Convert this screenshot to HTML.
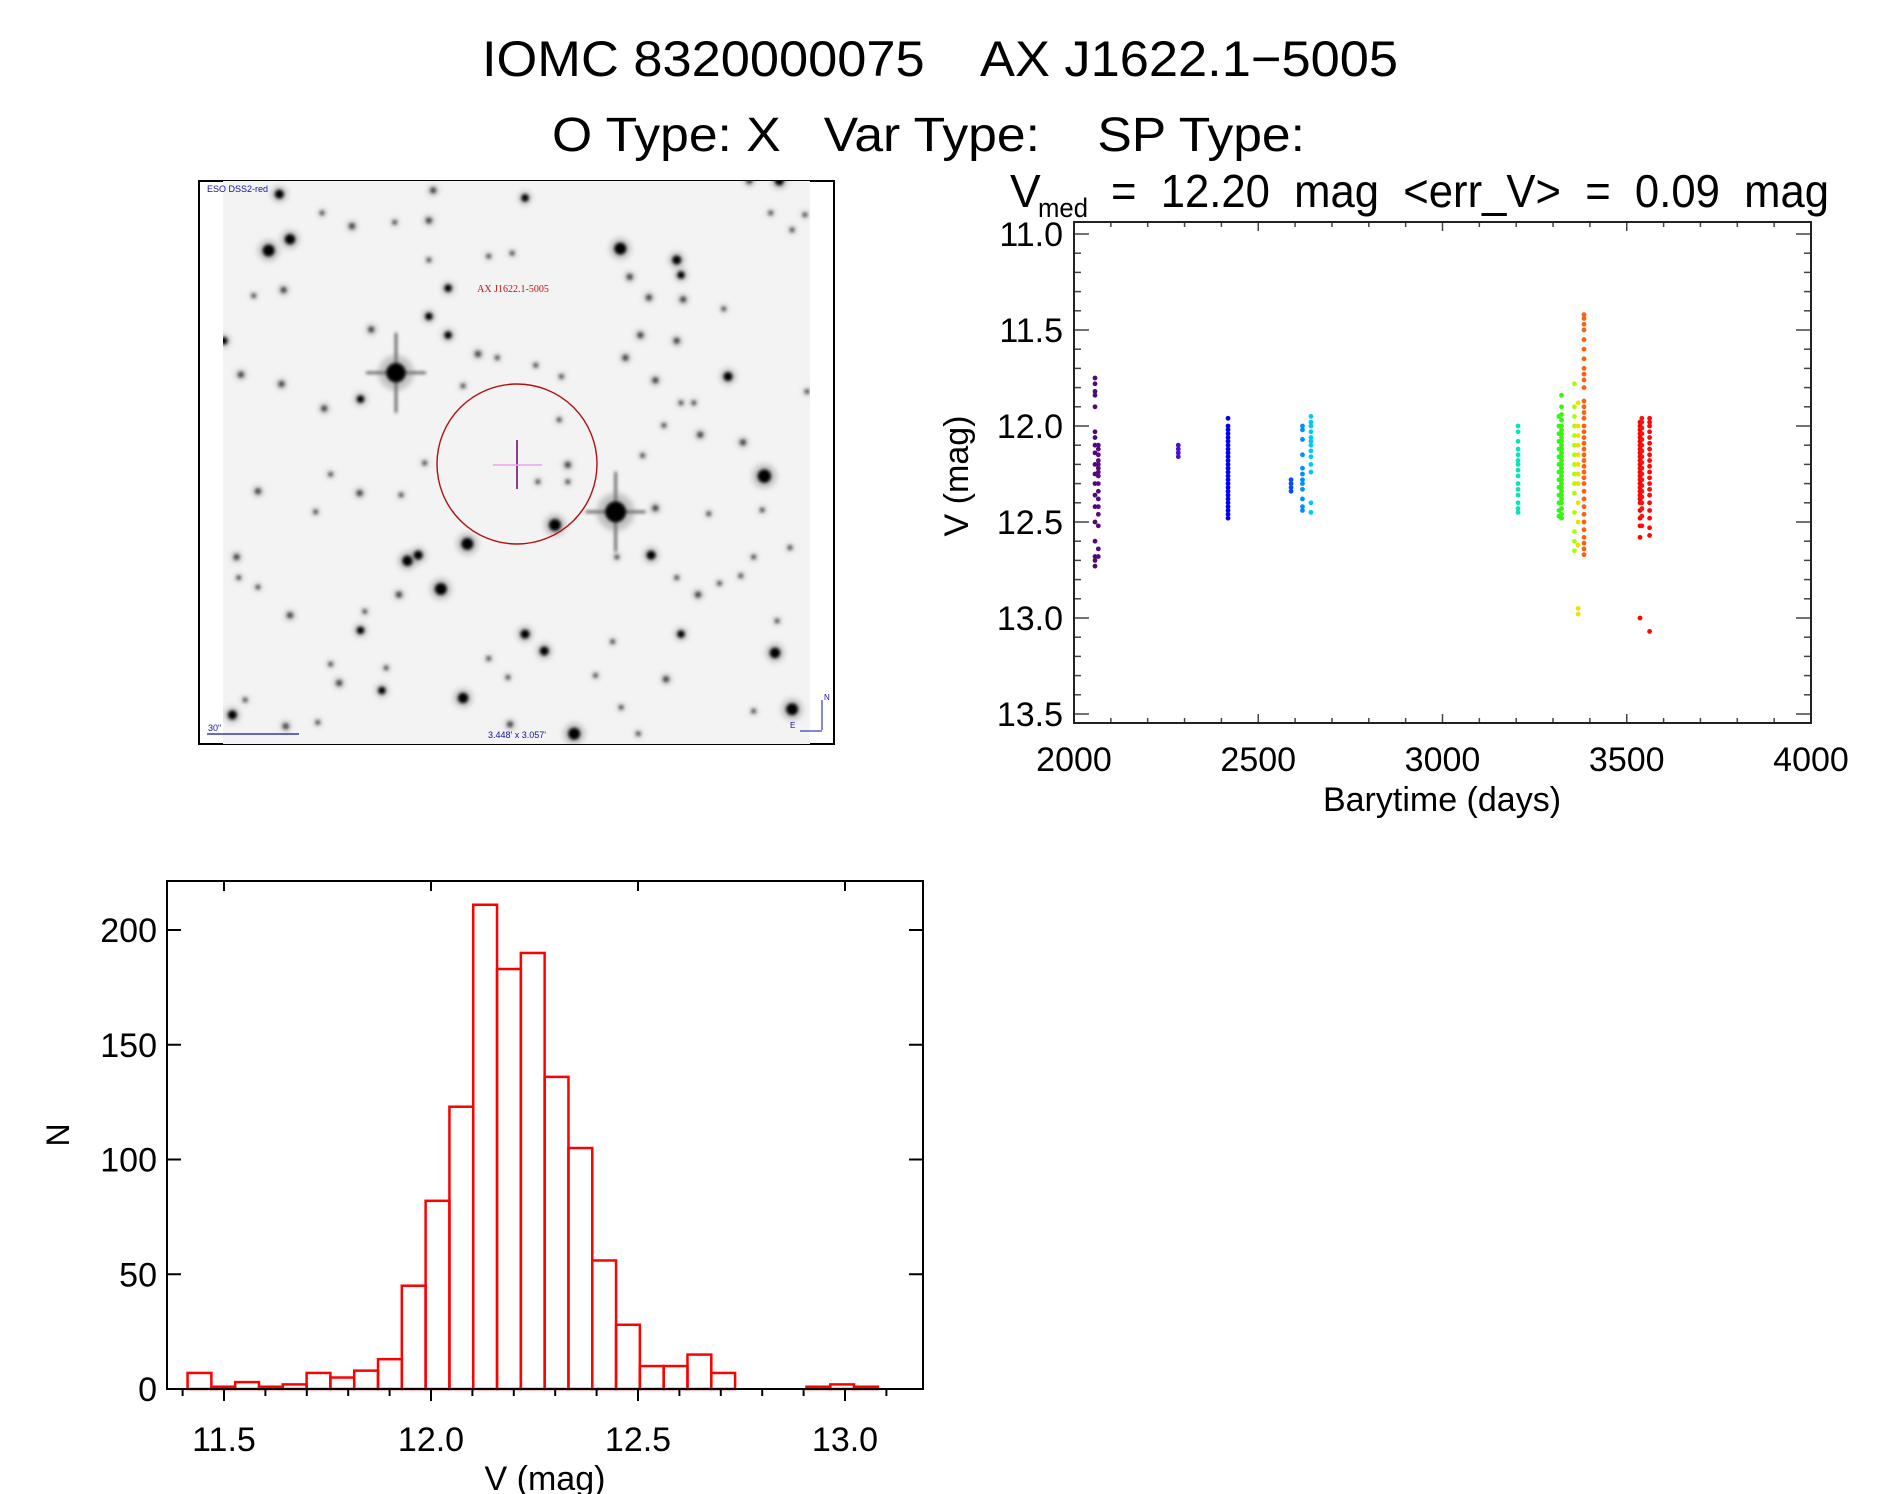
<!DOCTYPE html>
<html><head><meta charset="utf-8">
<style>
html,body{margin:0;padding:0;background:#fff;}
svg{display:block;font-family:"Liberation Sans",sans-serif;}
text{white-space:pre;}
</style></head>
<body>
<svg id="fig" width="1889" height="1494" viewBox="0 0 1889 1494" xmlns="http://www.w3.org/2000/svg" xml:space="preserve">
<defs>
<filter id="blur2" x="-50%" y="-50%" width="200%" height="200%"><feGaussianBlur stdDeviation="1.6"/></filter>
<filter id="blur4" x="-80%" y="-80%" width="260%" height="260%"><feGaussianBlur stdDeviation="3"/></filter>
<clipPath id="imgclip"><rect x="223" y="181" width="587" height="563"/></clipPath>
</defs>
<g fill="#000">
<text x="482" y="76" font-size="50" textLength="916" lengthAdjust="spacingAndGlyphs">IOMC 8320000075    AX J1622.1−5005</text>
<text x="552" y="151" font-size="48" textLength="753" lengthAdjust="spacingAndGlyphs">O Type: X   Var Type:    SP Type:</text>
<text x="1010" y="207" font-size="46">V</text>
<text x="1038" y="217" font-size="27" textLength="50" lengthAdjust="spacingAndGlyphs">med</text>
<text x="1111" y="207" font-size="46" textLength="718" lengthAdjust="spacingAndGlyphs">=  12.20  mag  &lt;err_V&gt;  =  0.09  mag</text>
</g>
<g id="sky">
<rect x="199" y="181" width="635" height="563" fill="#fff" stroke="#000" stroke-width="2"/>
<rect x="223" y="181" width="587" height="563" fill="#f3f3f3"/>
<g id="stars" clip-path="url(#imgclip)"></g>
<ellipse cx="517" cy="464" rx="80" ry="80" fill="none" stroke="#b01010" stroke-width="1.4"/>
<line x1="517" y1="440" x2="517" y2="489" stroke="#701070" stroke-width="1.6"/>
<line x1="493" y1="465" x2="542" y2="465" stroke="#f0a0f0" stroke-width="1.4"/>
<text x="513" y="292" font-size="10" fill="#c01010" text-anchor="middle" font-family="Liberation Serif, serif">AX J1622.1-5005</text>
<text x="207" y="192" font-size="9" fill="#1010a0">ESO DSS2-red</text>
<text x="208" y="731" font-size="9" fill="#1010a0">30"</text>
<line x1="207" y1="734" x2="299" y2="734" stroke="#1010a0" stroke-width="1.2"/>
<text x="517" y="738" font-size="9" fill="#1010a0" text-anchor="middle">3.448' x 3.057'</text>
<g stroke="#1010a0" stroke-width="1" fill="#1010a0">
<line x1="822" y1="730" x2="822" y2="700"/><line x1="800" y1="731" x2="822" y2="731"/>
<text x="824" y="700" font-size="8" stroke="none">N</text><text x="790" y="728" font-size="8" stroke="none">E</text>
</g>
</g>
<g id="lc"></g>
<g id="hist"></g>
</svg>
<script>
// ---------- light curve data ----------
const seriesDays = [2057, 2066, 2283, 2418, 2589, 2620, 2643, 3205, 3316, 3323, 3358, 3368, 3384, 3536, 3541, 3562];
const seriesMags = [
 [11.75,11.78,11.82,11.84,11.9,12.03,12.06,12.1,12.14,12.2,12.25,12.3,12.36,12.42,12.5,12.6,12.68,12.7,12.73],
 [12.1,12.12,12.15,12.18,12.2,12.22,12.24,12.26,12.3,12.34,12.38,12.42,12.46,12.52,12.64,12.68],
 [12.1,12.12,12.14,12.16],
 [11.96,12.0,12.02,12.04,12.06,12.08,12.1,12.12,12.14,12.16,12.18,12.2,12.22,12.24,12.26,12.28,12.3,12.32,12.34,12.36,12.38,12.4,12.42,12.44,12.46,12.48],
 [12.28,12.3,12.32,12.34],
 [12.0,12.02,12.07,12.15,12.22,12.25,12.28,12.3,12.33,12.38,12.42,12.44],
 [11.95,11.98,12.0,12.03,12.06,12.08,12.1,12.13,12.16,12.2,12.24,12.4,12.45],
 [12.0,12.03,12.08,12.12,12.15,12.18,12.2,12.23,12.26,12.3,12.33,12.36,12.4,12.43,12.45],
 [11.95,12.0,12.04,12.08,12.12,12.16,12.2,12.24,12.28,12.32,12.36,12.4,12.44,12.47],
 [11.84,11.9,11.94,11.97,12.0,12.02,12.04,12.06,12.08,12.1,12.12,12.14,12.16,12.18,12.2,12.22,12.24,12.26,12.28,12.3,12.32,12.34,12.36,12.38,12.4,12.43,12.46,12.48],
 [11.78,11.9,11.95,12.0,12.05,12.1,12.15,12.2,12.25,12.3,12.35,12.45,12.55,12.6,12.65],
 [11.88,12.0,12.05,12.1,12.15,12.2,12.25,12.3,12.4,12.5,12.62,12.95,12.98],
 [11.42,11.44,11.47,11.5,11.55,11.6,11.65,11.7,11.73,11.76,11.8,11.87,11.9,11.93,11.96,12.0,12.03,12.06,12.09,12.12,12.15,12.18,12.21,12.24,12.27,12.3,12.34,12.38,12.42,12.46,12.5,12.54,12.58,12.61,12.64,12.67],
 [11.98,12.0,12.02,12.04,12.06,12.08,12.1,12.12,12.14,12.16,12.18,12.2,12.22,12.24,12.26,12.28,12.3,12.32,12.34,12.36,12.38,12.4,12.44,12.48,12.52,12.58,13.0],
 [11.96,11.98,12.01,12.04,12.07,12.1,12.13,12.16,12.19,12.22,12.25,12.28,12.31,12.34,12.37,12.4,12.43,12.47,12.52],
 [11.96,11.98,12.0,12.03,12.06,12.09,12.12,12.15,12.18,12.21,12.24,12.27,12.3,12.33,12.36,12.4,12.44,12.48,12.53,12.57,13.07]
];
const seriesColors = ['#4e0a72','#5a0a80','#4a10d0','#0000ff','#0050ff','#0090ff','#00c8ff','#00e8b8','#20ff20','#40f010','#a8ff00','#f0e000','#ff6010','#ff0000','#ff1010','#ff0808'];
const lcXTicks = [2000,2500,3000,3500,4000];
const lcYTicks = [11.0,11.5,12.0,12.5,13.0,13.5];
// ---------- histogram data ----------
const histStart = 11.412;
const histWidth = 0.0575;
const histCounts = [7,1,3,1,2,7,5,8,13,45,82,123,211,183,190,136,105,56,28,10,10,15,7,0,0,0,1,2,1];
const histXTicks = [11.5,12.0,12.5,13.0];
const histYTicks = [0,50,100,150,200];
// ---------- star field (image decoration, zoom-space coords) ----------
const stars = [[483,540,13],[997,910,14],[1345,815,9],[1008,210,8],[650,995,8],[855,945,8],[588,1115,8],[510,1040,7],[535,1025,6],[185,215,8],[235,185,7],[1080,1025,6],[1370,1285,7],[1410,1435,8],[640,1405,7],[900,1500,8],[830,1280,6],[785,1235,6],[1140,240,6],[1150,280,5],[1260,550,6],[1150,1235,5],[400,1225,5],[450,1385,5],[100,1450,6],[210,65,6],[785,75,5],[560,390,5],[605,440,5],[605,315,5],[425,425,4],[400,610,5],[315,635,4],[215,570,4],[120,545,4],[160,855,4],[235,1185,4],[1195,705,4],[1295,725,4],[1020,500,4],[1055,440,4],[1075,340,4],[1155,345,4],[1140,455,4],[1090,560,4],[885,785,4],[865,665,3],[1190,1130,4],[1115,1355,4],[1375,1200,3],[350,1365,4],[750,1475,4],[490,1130,4],[398,860,4],[495,865,3],[330,810,3],[225,1480,4],[1320,1440,3],[1030,285,4],[560,135,4],[380,150,4],[220,320,4],[150,335,3],[675,490,4],[1090,900,4],[1380,30,6],[1310,30,4],[570,55,4],[480,140,3],[310,115,3],[560,240,3],[700,230,3],[755,222,3],[1110,680,3],[1000,1030,3],[1140,1085,3],[1240,1100,3],[1290,1080,3],[1320,1030,3],[160,1110,3],[110,1030,4],[410,1175,3],[295,910,3],[550,780,3],[815,830,3],[885,830,3],[1010,1430,3],[1050,1500,3],[700,1300,3],[745,1350,3],[950,1345,3],[870,550,3],[1060,760,3],[1150,620,3],[1180,620,3],[1410,160,3],[1250,370,3],[1360,115,3],[80,455,5],[1440,120,3],[300,1470,3],[130,1410,3],[115,1085,3],[1215,915,3],[1340,905,3],[990,1255,3],[640,575,3],[720,500,3],[810,520,3],[330,1315,3],[460,1325,3],[1405,1005,3],[1445,590,3]];

const NS='http://www.w3.org/2000/svg';
function mk(tag, attrs, parent){const e=document.createElementNS(NS,tag);for(const k in attrs)e.setAttribute(k,attrs[k]);parent.appendChild(e);return e;}

// stars
(function(){
 const g=document.getElementById('stars');
 stars.forEach(s=>{
  const X=199+(s[0]-22)*0.4273, Y=181+(s[1]-30)*0.376, r=s[2]*0.75;
  if(s[2]>=12){
   const sp=mk('g',{stroke:'#333','stroke-width':2,filter:'url(#blur2)'},g);
   
   
   mk('line',{x1:X-30,y1:Y,x2:X+30,y2:Y},sp);mk('line',{x1:X,y1:Y-40,x2:X,y2:Y+40},sp);
  }
  const h=mk('circle',{cx:X,cy:Y,r:r*1.8,fill:'#777',opacity:0.4,filter:'url(#blur4)'},g);
  
  
  const c=mk('circle',{cx:X,cy:Y,r:r,fill:s[2]>=5?'#050505':'#444',filter:'url(#blur2)'},g);
  
  
 });
})();

// light curve
(function(){
 const g=document.getElementById('lc');
 const L=1074,R=1811,T=222,B=723;
 const xs=d=>L+(d-2000)*(R-L)/2000;
 const ys=m=>426+(m-12)*192;
 const pg=mk('g',{},g);
 
 
 seriesDays.forEach((d,i)=>{
  seriesMags[i].forEach(m=>{
   const c=mk('circle',{cx:xs(d),cy:ys(m),r:2.4,fill:seriesColors[i]},pg);
   
   
  });
 });
 const tg=mk('g',{stroke:'#444','stroke-width':1.5},g);
 
 
 for(let m=11.0;m<=13.501;m+=0.1){
  const y=ys(m), major=Math.abs(m*2-Math.round(m*2))<0.01, len=major?15:7;
  mk('line',{x1:L,y1:y,x2:L+len,y2:y},tg);mk('line',{x1:R,y1:y,x2:R-len,y2:y},tg);
 }
 for(let d=2000;d<=4000;d+=100){
  const x=xs(d), len=(d%500===0)?9:5;
  mk('line',{x1:x,y1:B,x2:x,y2:B-len},tg);mk('line',{x1:x,y1:T,x2:x,y2:T+len},tg);
 }
 const ax=mk('rect',{x:L,y:T,width:R-L,height:B-T,fill:'none',stroke:'#222','stroke-width':2},g);
 
 
 lcXTicks.forEach(v=>{
  const t=mk('text',{x:xs(v),y:771,'font-size':34,'text-anchor':'middle'},g);t.textContent=v;
  
  
 });
 lcYTicks.forEach(v=>{
  const t=mk('text',{x:1063,y:ys(v)+12,'font-size':34,'text-anchor':'end'},g);t.textContent=v.toFixed(1);
  
  
 });
 const xt=mk('text',{x:1442,y:811,'font-size':34,'text-anchor':'middle'},g);xt.textContent='Barytime (days)';
 
 
 const yt=mk('text',{x:0,y:0,'font-size':34,'text-anchor':'middle',transform:'translate(968,476) rotate(-90)'},g);yt.textContent='V (mag)';
 
 
})();

// histogram
(function(){
 const g=document.getElementById('hist');
 const L=167,R=923,T=881,B=1389;
 const xs=v=>224+(v-11.5)*414;
 const ys=n=>B-n*(B-930)/200;
 const bg=mk('g',{fill:'none',stroke:'#ff0000','stroke-width':2.5},g);
 
 
 histCounts.forEach((n,i)=>{
  const x0=xs(histStart+i*histWidth), x1=xs(histStart+(i+1)*histWidth);
  const r=mk('rect',{x:x0,y:ys(n),width:x1-x0,height:B-ys(n)},bg);
  
  
 });
 const tg=mk('g',{stroke:'#000','stroke-width':2},g);
 
 
 for(let k=114;k<=131;k++){
  const v=k/10, x=xs(v), major=(k%5===0);
  mk('line',{x1:x,y1:B,x2:x,y2:B+(major?12:7)},tg);
  if(major) mk('line',{x1:x,y1:T,x2:x,y2:T+10},tg);
 }
 histYTicks.forEach(n=>{const y=ys(n);mk('line',{x1:L,y1:y,x2:L+14,y2:y},tg);mk('line',{x1:R,y1:y,x2:R-14,y2:y},tg);});
 const ax=mk('rect',{x:L,y:T,width:R-L,height:B-T,fill:'none',stroke:'#000','stroke-width':2},g);
 
 
 histXTicks.forEach(v=>{
  const t=mk('text',{x:xs(v),y:1451,'font-size':34,'text-anchor':'middle'},g);t.textContent=v.toFixed(1);
  
  
 });
 histYTicks.forEach(n=>{
  const t=mk('text',{x:157,y:ys(n)+12,'font-size':34,'text-anchor':'end'},g);t.textContent=n;
  
  
 });
 const xt=mk('text',{x:545,y:1490,'font-size':34,'text-anchor':'middle'},g);xt.textContent='V (mag)';
 
 
 const yt=mk('text',{x:0,y:0,'font-size':32,'text-anchor':'middle',transform:'translate(69,1135) rotate(-90)'},g);yt.textContent='N';
 
 
})();
</script>
</body></html>
